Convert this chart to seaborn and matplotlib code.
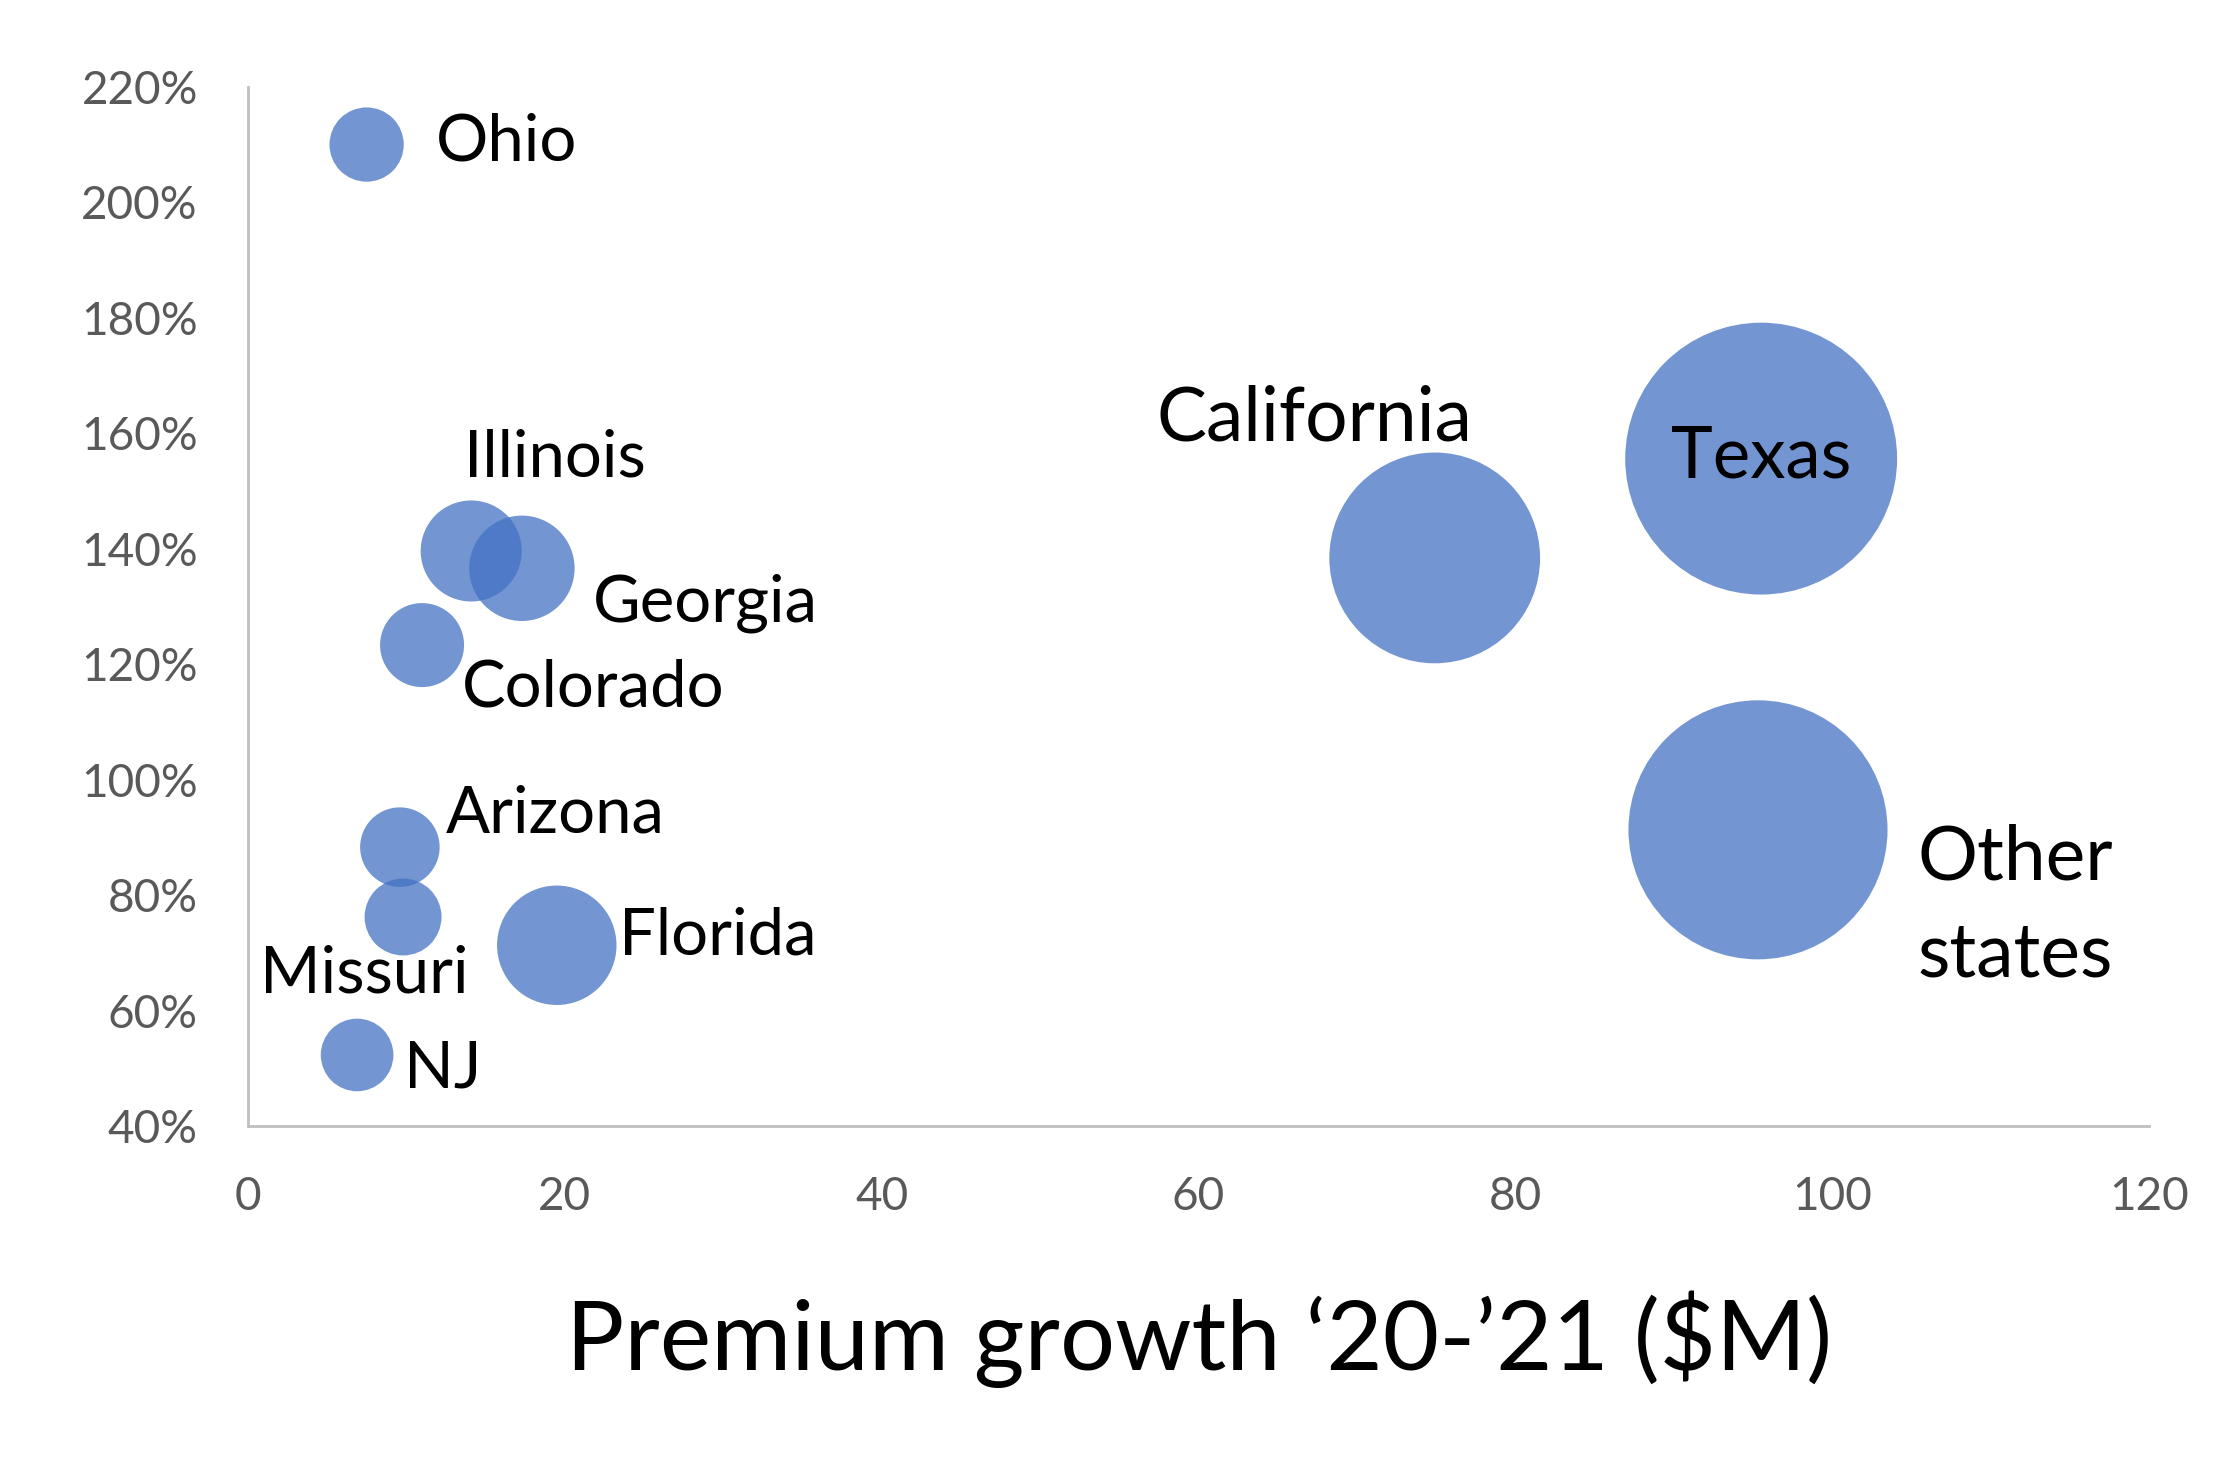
import seaborn as sns
import matplotlib.pyplot as plt
import matplotlib.ticker as mtick
import pandas as pd

# bubble chart: premium growth vs growth rate, bubble area = premium size
states = ['Ohio', 'Illinois', 'Georgia', 'Colorado', 'Arizona', 'Missuri',
          'Florida', 'NJ', 'California', 'Texas', 'Other\nstates']
growth_musd = [7.5, 14.1, 17.3, 11.0, 9.6, 9.8, 19.5, 6.9, 74.9, 95.5, 95.3]
growth_pct = [2.10, 1.396, 1.366, 1.233, 0.883, 0.762, 0.713, 0.523, 1.384, 1.556, 0.913]
bubble_size = [68, 126, 137, 87, 78, 73, 176, 65, 548, 912, 828]

df = pd.DataFrame({'state': states, 'x': growth_musd, 'y': growth_pct, 'size': bubble_size})

sns.set_style('white')
plt.rcParams['font.family'] = ['Lato', 'DejaVu Sans']

fig = plt.figure(figsize=(22.32, 14.57), dpi=100)
ax = fig.add_axes([0.111, 0.2272, 0.852, 0.7132])

sns.scatterplot(data=df, x='x', y='y', size='size', sizes=(2732, 38320),
                color='#4472C4', alpha=0.75, linewidth=0, legend=False, ax=ax)

# label offsets in points, (dx, dy, ha, fontsize)
label_style = {
    'Ohio': (50, 2, 'left', 47),
    'Illinois': (-5, 67, 'left', 47),
    'Georgia': (51, -25, 'left', 47),
    'Colorado': (29, -31, 'left', 47),
    'Arizona': (33, 24, 'left', 47),
    'Missuri': (47, -41, 'right', 47),
    'Florida': (45, 7, 'left', 47),
    'NJ': (34, -10, 'left', 47),
    'California': (27, 100, 'right', 54),
    'Texas': (0, 1, 'center', 51),
    'Other\nstates': (115, -55, 'left', 54),
}
for row in df.itertuples():
    dx, dy, ha, fs = label_style[row.state]
    ax.annotate(row.state, (row.x, row.y), xytext=(dx, dy), textcoords='offset points',
                ha=ha, va='center', fontsize=fs, color='black', linespacing=1.5)

ax.set_xlim(0, 120)
ax.set_ylim(0.4, 2.2)
ax.set_xticks(range(0, 121, 20))
ax.set_yticks([0.4 + 0.2 * i for i in range(10)])
ax.yaxis.set_major_formatter(mtick.PercentFormatter(1.0, decimals=0))
ax.tick_params(axis='both', length=0, labelsize=33, labelcolor='#595959')
ax.tick_params(axis='y', pad=36)
ax.tick_params(axis='x', pad=36)

for side in ['top', 'right']:
    ax.spines[side].set_visible(False)
for side in ['left', 'bottom']:
    ax.spines[side].set_color('#BFBFBF')
    ax.spines[side].set_linewidth(2)

ax.set_ylabel('')
ax.set_xlabel('Premium growth \u201820-\u201921 ($M)', fontsize=70, labelpad=52, color='black')

fig.savefig('out.png', dpi=100)
